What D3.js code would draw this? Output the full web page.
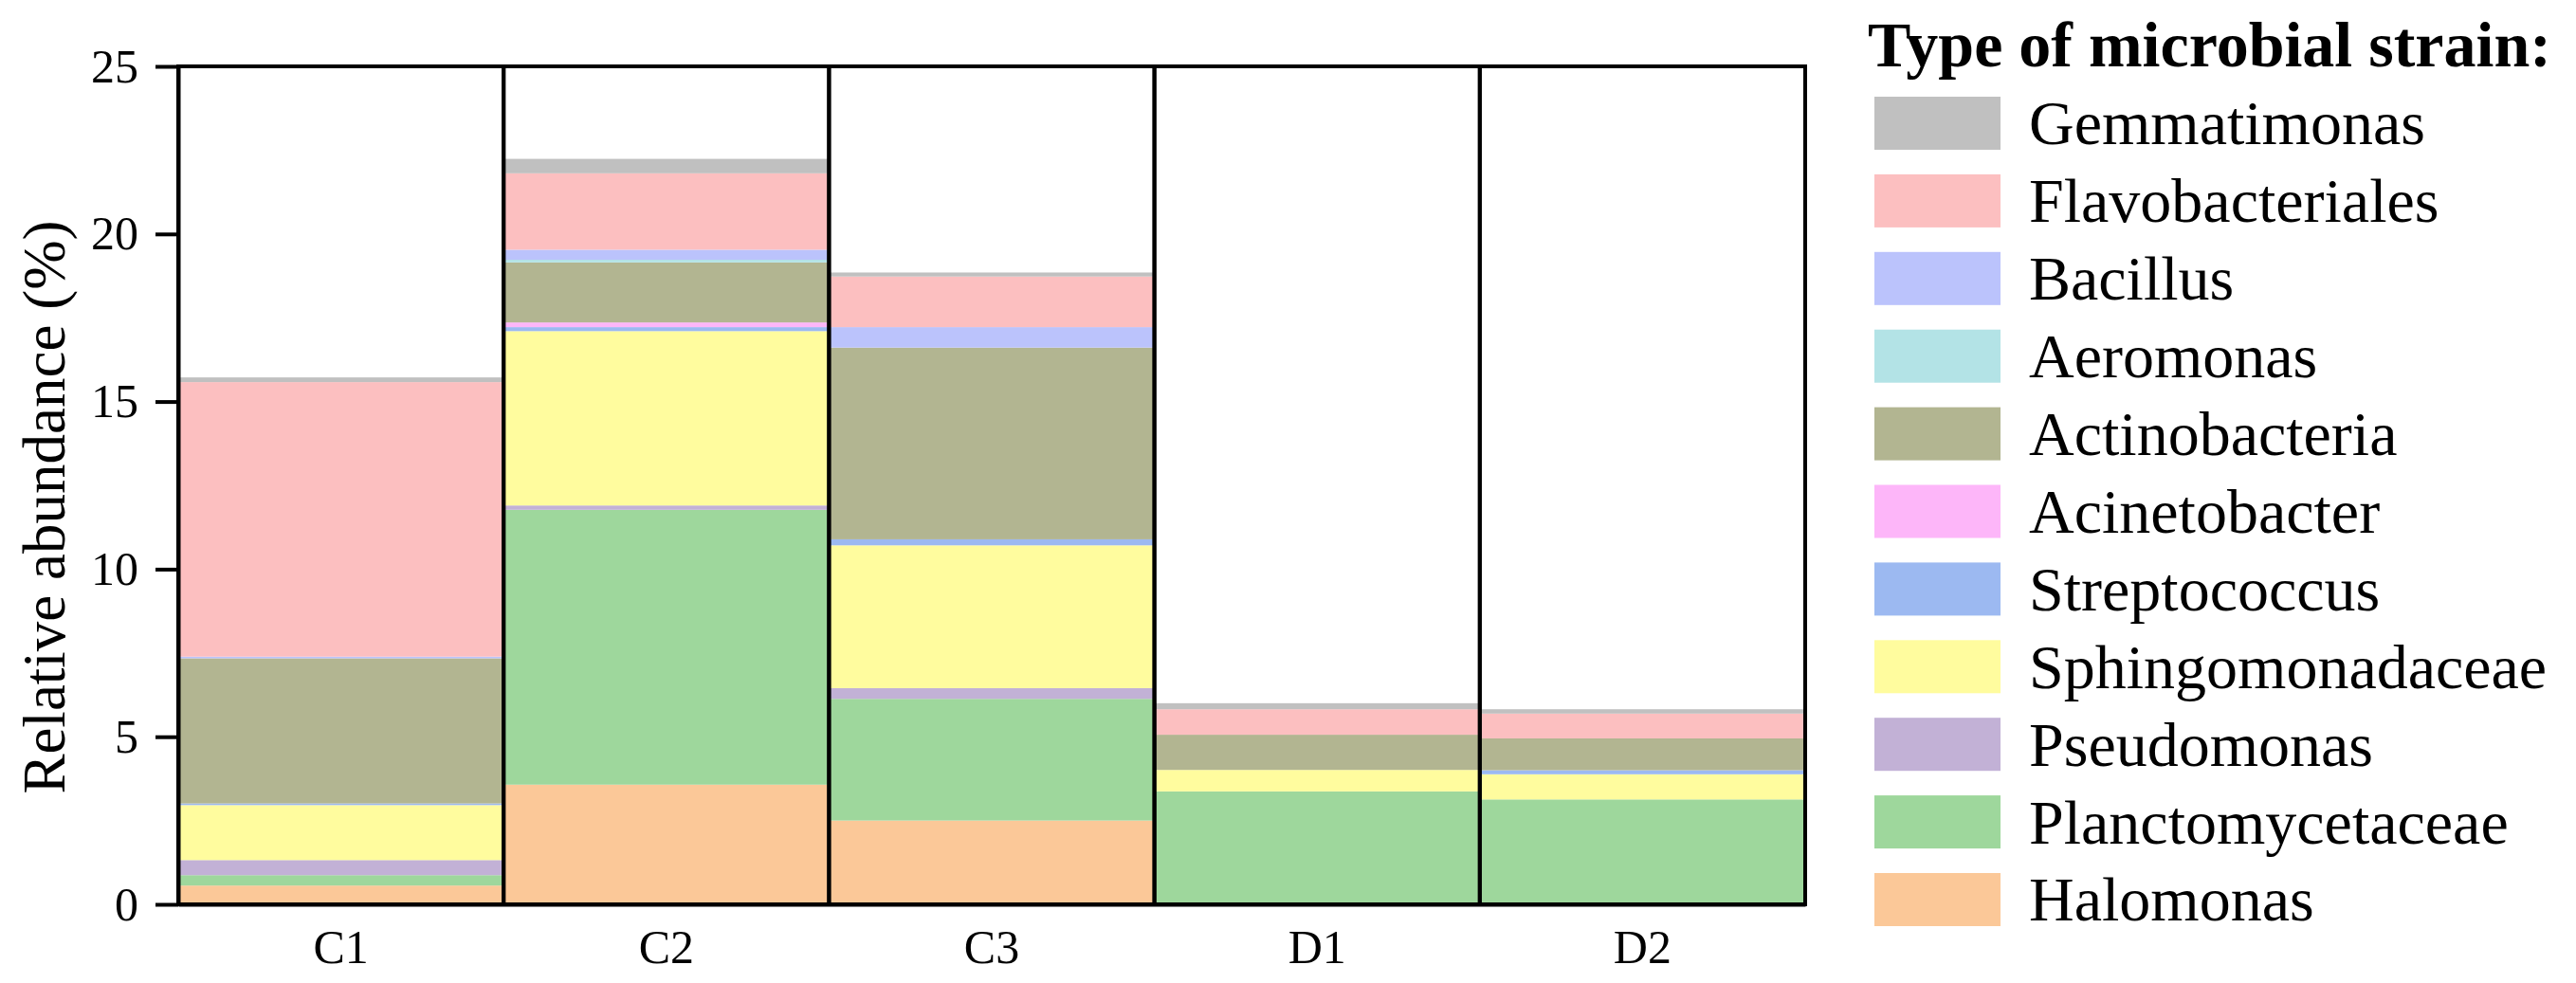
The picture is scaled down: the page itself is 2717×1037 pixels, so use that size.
<!DOCTYPE html>
<html>
<head>
<meta charset="utf-8">
<style>
  body { margin: 0; background: #fff; }
  text { font-family: "Times New Roman", "Liberation Serif", serif; fill: #000; }
</style>
<script src="https://cdn.jsdelivr.net/npm/d3@7"></script>
</head>
<body>
<svg width="2717" height="1037"></svg>
<script>
// samples on the x axis
var samples = ["C1", "C2", "C3", "D1", "D2"];

// strains, stacked from the bottom up
var strains = ["Halomonas", "Planctomycetaceae", "Pseudomonas", "Sphingomonadaceae",
  "Streptococcus", "Acinetobacter", "Actinobacteria", "Aeromonas", "Bacillus",
  "Flavobacteriales", "Gemmatimonas"];

// relative abundance (%) per sample
var halomonas         = [0.56, 3.57, 2.50, 0, 0];
var planctomycetaceae = [0.31, 8.20, 3.63, 3.37, 3.13];
var pseudomonas       = [0.45, 0.13, 0.32, 0, 0];
var sphingomonadaceae = [1.64, 5.20, 4.26, 0.64, 0.75];
var streptococcus     = [0.05, 0.12, 0.18, 0, 0.12];
var acinetobacter     = [0, 0.14, 0, 0, 0];
var actinobacteria    = [4.33, 1.79, 5.72, 1.05, 0.95];
var aeromonas         = [0, 0.08, 0, 0, 0];
var bacillus          = [0.05, 0.30, 0.61, 0, 0];
var flavobacteriales  = [8.19, 2.28, 1.51, 0.76, 0.74];
var gemmatimonas      = [0.14, 0.43, 0.12, 0.18, 0.13];

var yTicks = [0, 5, 10, 15, 20, 25];

var colors = ["#fbc898", "#9ed79c", "#c2b1d6", "#fffc9e", "#9cb9f1", "#fdb6f9",
  "#b2b591", "#b3e3e6", "#bbc3fc", "#fcbfc0", "#c0c0c0"];

var series = [halomonas, planctomycetaceae, pseudomonas, sphingomonadaceae,
  streptococcus, acinetobacter, actinobacteria, aeromonas, bacillus,
  flavobacteriales, gemmatimonas];

// build rows for d3.stack
var table = samples.map(function (s, i) {
  var row = { sample: s };
  strains.forEach(function (k, j) { row[k] = series[j][i]; });
  return row;
});

var svg = d3.select("svg");
var plotLeft = 188, plotRight = 1904, plotTop = 70, plotBottom = 954;

var x = d3.scaleBand().domain(samples).range([plotLeft, plotRight]).padding(0);
var y = d3.scaleLinear().domain([0, 25]).range([plotBottom, plotTop]);
var color = d3.scaleOrdinal().domain(strains).range(colors);

var stacked = d3.stack().keys(strains)(table);

// stacked fills
svg.append("g").selectAll("g")
  .data(stacked)
  .enter().append("g")
  .attr("fill", function (d) { return color(d.key); })
  .selectAll("rect")
  .data(function (d) { return d; })
  .enter().append("rect")
  .attr("x", function (d) { return x(d.data.sample); })
  .attr("y", function (d) { return y(d[1]); })
  .attr("width", x.bandwidth())
  .attr("height", function (d) { return y(d[0]) - y(d[1]); });

// black box around each sample column
svg.append("g").selectAll("rect")
  .data(samples)
  .enter().append("rect")
  .attr("x", function (d) { return x(d); })
  .attr("y", plotTop)
  .attr("width", x.bandwidth())
  .attr("height", plotBottom - plotTop)
  .attr("fill", "none")
  .attr("stroke", "#000")
  .attr("stroke-width", 4);

// y axis
var yAxis = svg.append("g")
  .attr("transform", "translate(" + plotLeft + ",0)")
  .call(d3.axisLeft(y).tickValues(yTicks).tickSize(24).tickPadding(18).tickSizeOuter(0));
yAxis.select(".domain").attr("stroke-width", 4);
yAxis.selectAll(".tick line").attr("stroke-width", 4);
yAxis.selectAll(".tick text")
  .style("font-family", "'Times New Roman', 'Liberation Serif', serif")
  .style("font-size", "50px");

// x axis labels
var xAxis = svg.append("g")
  .attr("transform", "translate(0," + plotBottom + ")")
  .call(d3.axisBottom(x).tickSize(0).tickPadding(26));
xAxis.select(".domain").attr("stroke-width", 4);
xAxis.selectAll(".tick text")
  .style("font-family", "'Times New Roman', 'Liberation Serif', serif")
  .style("font-size", "50px");

// y axis title
svg.append("text")
  .attr("transform", "translate(68,535) rotate(-90)")
  .attr("text-anchor", "middle")
  .style("font-size", "63px")
  .text("Relative abundance (%)");

// legend
svg.append("text")
  .attr("x", 1970)
  .attr("y", 70)
  .style("font-size", "68px")
  .style("font-weight", "bold")
  .text("Type of microbial strain:");

var legendOrder = strains.slice().reverse();
var legend = svg.append("g").selectAll("g")
  .data(legendOrder)
  .enter().append("g")
  .attr("transform", function (d, i) { return "translate(1977," + (102 + i * 81.9) + ")"; });

legend.append("rect")
  .attr("width", 133)
  .attr("height", 56)
  .attr("fill", function (d) { return color(d); });

legend.append("text")
  .attr("x", 163)
  .attr("y", 28)
  .attr("dy", "0.34em")
  .style("font-size", "66px")
  .text(function (d) { return d; });
</script>
</body>
</html>
